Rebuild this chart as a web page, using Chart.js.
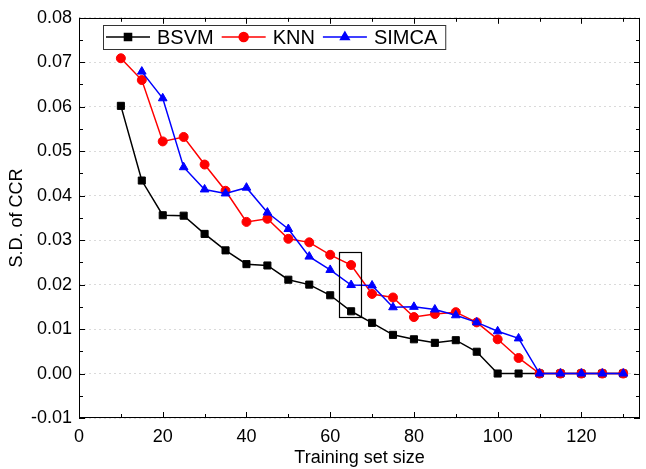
<!DOCTYPE html>
<html>
<head>
<meta charset="utf-8">
<script src="https://cdn.jsdelivr.net/npm/chart.js@4/dist/chart.umd.min.js"></script>
<style>
    html, body { margin: 0; padding: 0; background: #ffffff; }
    #wrap { width: 646px; height: 469px; }
</style>
</head>
<body>
<div id="wrap"><canvas id="chart" width="646" height="469"></canvas></div>
<script>
// Training set sizes (x) and S.D. of CCR per method
const trainingSizes = [10, 15, 20, 25, 30, 35, 40, 45, 50, 55, 60, 65, 70, 75, 80, 85, 90, 95, 100, 105, 110, 115, 120, 125, 130];
const bsvmSD  = [0.0602, 0.0434, 0.0356, 0.0355, 0.0314, 0.0277, 0.0246, 0.0243, 0.0211, 0.0200, 0.0176, 0.0140, 0.0114, 0.0087, 0.0077, 0.0069, 0.0075, 0.0049, 0, 0, 0, 0, 0, 0, 0];
const knnSD   = [0.0709, 0.0660, 0.0522, 0.0532, 0.0470, 0.0411, 0.0341, 0.0348, 0.0303, 0.0295, 0.0267, 0.0244, 0.0179, 0.0171, 0.0127, 0.0134, 0.0138, 0.0115, 0.0077, 0.0035, 0, 0, 0, 0, 0];
const simcaSD = [null, 0.0679, 0.0619, 0.0464, 0.0414, 0.0405, 0.0418, 0.0362, 0.0325, 0.0263, 0.0233, 0.0199, 0.0198, 0.0149, 0.0150, 0.0144, 0.0131, 0.0115, 0.0095, 0.0079, 0, 0, 0, 0, 0];

// Tick labels
const xTickValues = [0, 20, 40, 60, 80, 100, 120];
const yTickValues = [-0.01, 0.00, 0.01, 0.02, 0.03, 0.04, 0.05, 0.06, 0.07, 0.08];

// Highlighted region (data units)
const highlightBox = { xMin: 62, xMax: 67.3, yMin: 0.0127, yMax: 0.0274 };

const FONT = 'Arial, "Liberation Sans", sans-serif';

function toPoints(values) {
    return trainingSizes.map((x, i) => ({ x: x, y: values[i] }));
}

/**
 * Draws the Origin-style frame: box, inward ticks, highlight rectangle and legend
 */
const originFramePlugin = {
    id: 'originFrame',
    afterDatasetsDraw: function(chart) {
        const ctx = chart.ctx;
        const a = chart.chartArea;
        const xs = chart.scales.x;
        const ys = chart.scales.y;

        ctx.save();
        ctx.strokeStyle = '#000000';
        ctx.lineWidth = 1;

        // frame
        ctx.strokeRect(Math.round(a.left) + 0.5, Math.round(a.top) + 0.5,
            Math.round(a.right - a.left) - 1, Math.round(a.bottom - a.top) - 1);

        ctx.beginPath();
        // x ticks (major every 20, minor every 10) on bottom and top
        for (let v = 0; v <= 130; v += 10) {
            const px = Math.round(xs.getPixelForValue(v)) + 0.5;
            const len = v % 20 === 0 ? 6 : 4;
            ctx.moveTo(px, a.bottom);
            ctx.lineTo(px, a.bottom - len);
            ctx.moveTo(px, a.top);
            ctx.lineTo(px, a.top + len);
        }
        // y ticks (major every 0.01, minor every 0.005) on left and right
        for (let i = 0; i <= 18; i++) {
            const v = -0.01 + i * 0.005;
            const py = Math.round(ys.getPixelForValue(v)) + 0.5;
            const len = i % 2 === 0 ? 6 : 4;
            ctx.moveTo(a.left, py);
            ctx.lineTo(a.left + len, py);
            ctx.moveTo(a.right, py);
            ctx.lineTo(a.right - len, py);
        }
        ctx.stroke();

        // highlight rectangle
        const bx1 = xs.getPixelForValue(highlightBox.xMin);
        const bx2 = xs.getPixelForValue(highlightBox.xMax);
        const by1 = ys.getPixelForValue(highlightBox.yMax);
        const by2 = ys.getPixelForValue(highlightBox.yMin);
        ctx.lineWidth = 1.2;
        ctx.strokeRect(Math.round(bx1) + 0.5, Math.round(by1) + 0.5, Math.round(bx2 - bx1), Math.round(by2 - by1));

        // legend with line + marker samples
        ctx.font = '20px ' + FONT;
        ctx.textBaseline = 'middle';
        ctx.textAlign = 'left';
        const boxLeft = a.left + 24;
        const boxTop = 25;
        const boxHeight = 24;
        const midY = boxTop + boxHeight / 2;
        let cursor = boxLeft + 3;
        const items = chart.data.datasets.map(ds => {
            const w = ctx.measureText(ds.label).width;
            return { ds: ds, w: w };
        });
        const totalWidth = 3 + items.reduce((s, it) => s + 44 + 7 + it.w + 8, 0);

        ctx.fillStyle = '#ffffff';
        ctx.fillRect(boxLeft, boxTop, totalWidth, boxHeight);
        ctx.strokeStyle = '#333333';
        ctx.lineWidth = 1;
        ctx.strokeRect(boxLeft + 0.5, boxTop + 0.5, totalWidth, boxHeight);

        items.forEach(it => {
            const ds = it.ds;
            ctx.strokeStyle = ds.borderColor;
            ctx.fillStyle = ds.backgroundColor;
            ctx.lineWidth = 1.5;
            ctx.beginPath();
            ctx.moveTo(cursor, midY);
            ctx.lineTo(cursor + 44, midY);
            ctx.stroke();
            Chart.helpers.drawPoint(ctx, {
                pointStyle: ds.pointStyle,
                radius: ds.pointRadius,
                rotation: 0,
                borderWidth: 1
            }, cursor + 22, midY);
            ctx.fillStyle = '#000000';
            ctx.fillText(ds.label, cursor + 51, midY + 1);
            cursor += 44 + 7 + it.w + 8;
        });

        ctx.restore();
    }
};

const ctx = document.getElementById('chart').getContext('2d');
new Chart(ctx, {
    type: 'line',
    data: {
        datasets: [
            {
                label: 'BSVM',
                data: toPoints(bsvmSD),
                borderColor: '#000000',
                backgroundColor: '#000000',
                borderWidth: 1.5,
                pointStyle: 'rect',
                pointRadius: 5,
                pointBorderWidth: 1,
                order: 2
            },
            {
                label: 'KNN',
                data: toPoints(knnSD),
                borderColor: '#ff0000',
                backgroundColor: '#ff0000',
                borderWidth: 1.5,
                pointStyle: 'circle',
                pointRadius: 4.5,
                pointBorderWidth: 1,
                order: 1
            },
            {
                label: 'SIMCA',
                data: toPoints(simcaSD),
                borderColor: '#0000ff',
                backgroundColor: '#0000ff',
                borderWidth: 1.5,
                pointStyle: 'triangle',
                pointRadius: 5,
                pointBorderWidth: 1,
                order: 0
            }
        ]
    },
    options: {
        responsive: false,
        animation: false,
        devicePixelRatio: 1,
        layout: { padding: { top: 17, right: 5, left: 0, bottom: 0 } },
        plugins: {
            legend: { display: false },
            tooltip: { enabled: false }
        },
        elements: { line: { tension: 0 } },
        scales: {
            x: {
                type: 'linear',
                min: 0,
                max: 134,
                afterBuildTicks: function(scale) {
                    scale.ticks = xTickValues.map(v => ({ value: v }));
                },
                afterFit: function(scale) { scale.height = 51; },
                grid: { display: false, drawTicks: false },
                border: { display: false },
                ticks: {
                    color: '#000000',
                    font: { family: FONT, size: 18 },
                    padding: 8,
                    maxRotation: 0,
                    callback: function(value) { return String(value); }
                },
                title: {
                    display: true,
                    text: 'Training set size',
                    color: '#000000',
                    font: { family: FONT, size: 18 },
                    padding: { top: 0, bottom: 0 }
                }
            },
            y: {
                min: -0.01,
                max: 0.08,
                afterBuildTicks: function(scale) {
                    scale.ticks = yTickValues.map(v => ({ value: v }));
                },
                afterFit: function(scale) { scale.width = 79; },
                grid: {
                    color: '#dadada',
                    lineWidth: 1,
                    drawTicks: false
                },
                border: { display: false, dash: [2, 3] },
                ticks: {
                    color: '#000000',
                    font: { family: FONT, size: 18 },
                    padding: 7,
                    callback: function(value) { return Number(value).toFixed(2); }
                },
                title: {
                    display: true,
                    text: 'S.D. of CCR',
                    color: '#000000',
                    font: { family: FONT, size: 18 },
                    padding: { top: 6, bottom: 0 }
                }
            }
        }
    },
    plugins: [originFramePlugin]
});
</script>
</body>
</html>
